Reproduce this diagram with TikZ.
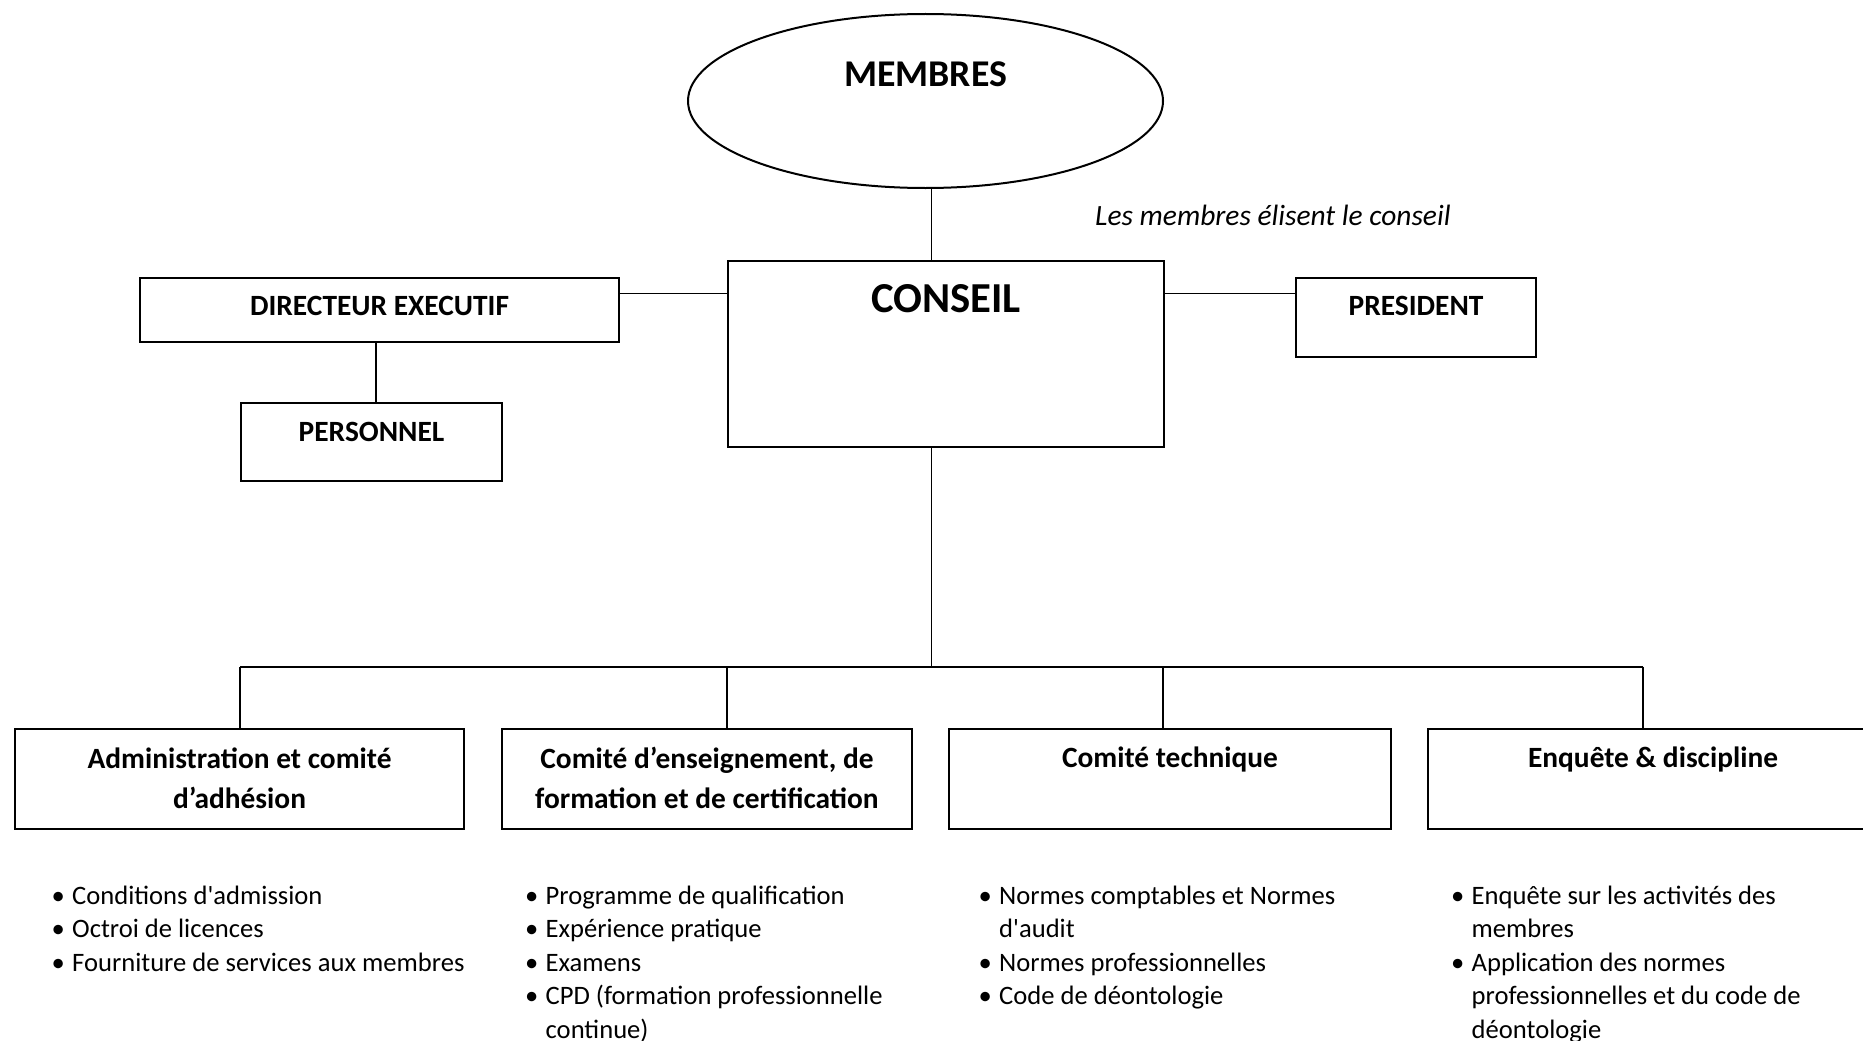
\documentclass[tikz,border=0pt]{standalone}
\usepackage{fontspec}
\setmainfont{Carlito}
\usetikzlibrary{shapes.geometric}
\newcommand\bodyfnt{\fontsize{26.6}{33.5}\selectfont}
\newcommand\hdfnt{\fontsize{29.4}{34}\selectfont\bfseries}
\newcommand\subfnt{\fontsize{29.4}{40.5}\selectfont\bfseries}
\newcommand\bul{\makebox[20.5pt][l]{\textbullet}}
\newcommand\ind{\hspace*{20.5pt}}
\newcommand\sq{\textquotesingle}
\tikzset{
  box/.style={draw, line width=2pt, rectangle, inner xsep=0pt, inner ysep=0pt, align=center},
  conn/.style={line width=1.6pt},
  lst/.style={anchor=base west, inner sep=0pt, font=\bodyfnt},
}
\begin{document}
\begin{tikzpicture}[x=1pt,y=-1pt]
\useasboundingbox (0,0) rectangle (1863,1041);
% top
\node[draw, ellipse, line width=2pt, minimum width=475pt, minimum height=174pt, inner sep=0pt,
  text height=20pt, text depth=50pt, font=\fontsize{37.8}{40}\selectfont\bfseries] (mem) at (925.5,101) {MEMBRES};
\node[box, anchor=north west, minimum width=436pt, text height=51.5pt, text depth=134.5pt,
  font=\fontsize{42.7}{46}\selectfont\bfseries] (con) at (727,260) {CONSEIL};
\node[box, anchor=north west, minimum width=479pt, text height=37.5pt, text depth=26.5pt, font=\hdfnt] (dir) at (139,277) {DIRECTEUR EXECUTIF};
\node[box, anchor=north west, minimum width=261pt, text height=38.5pt, text depth=39.5pt, font=\hdfnt] (pers) at (240,402) {PERSONNEL};
\node[box, anchor=north west, minimum width=240pt, text height=37.5pt, text depth=41.5pt, font=\hdfnt] (pres) at (1295,277) {PRESIDENT};
\node[anchor=base west, inner sep=0pt, font=\fontsize{29.4}{34}\selectfont\itshape] (elect) at (1095,225) {Les membres élisent le conseil};
% committees
\node[box, anchor=north west, minimum width=449pt, text height=79.5pt, text depth=20.5pt, font=\subfnt] (b1) at (14,728) {Administration et comité\\d’adhésion};
\node[box, anchor=north west, minimum width=410pt, text height=79.5pt, text depth=20.5pt, font=\subfnt] (b2) at (501,728) {Comité d’enseignement, de\\formation et de certification};
\node[box, anchor=north west, minimum width=442pt, text height=38.5pt, text depth=61.5pt, font=\subfnt] (b3) at (948,728) {Comité technique};
\node[box, anchor=north west, minimum width=450pt, text height=38.5pt, text depth=61.5pt, font=\subfnt] (b4) at (1427,728) {Enquête \& discipline};
% connectors
\coordinate (vx) at (931.5,0);
\coordinate (hy) at (0,293.5);
\coordinate (px) at (375.7,0);
\coordinate (d1) at (240,666.5);
\coordinate (d2) at (727,666.5);
\coordinate (d3) at (1163,666.5);
\coordinate (d4) at (1643,666.5);
\draw[conn] (vx |- mem.south) -- (vx |- con.north);
\draw[conn] (dir.east |- hy) -- (con.west |- hy);
\draw[conn] (con.east |- hy) -- (pres.west |- hy);
\draw[conn] (px |- dir.south) -- (px |- pers.north);
\draw[conn] (vx |- con.south) -- (vx |- d1);
\draw[line width=2pt] (d1) -- (d4);
\draw[conn] (d1) -- (d1 |- b1.north);
\draw[conn] (d2) -- (d2 |- b2.north);
\draw[conn] (d3) -- (d3 |- b3.north);
\draw[conn] (d4) -- (d4 |- b4.north);
% lists
\node[lst] (l1) at (51.5,904) {\begin{tabular}[t]{@{}l@{}}
\bul Conditions d\sq admission\\
\bul Octroi de licences\\
\bul Fourniture de services aux membres
\end{tabular}};
\node[lst] (l2) at (525,904) {\begin{tabular}[t]{@{}l@{}}
\bul Programme de qualification\\
\bul Expérience pratique\\
\bul Examens\\
\bul CPD (formation professionnelle\\
\ind continue)
\end{tabular}};
\node[lst] (l3) at (978.5,904) {\begin{tabular}[t]{@{}l@{}}
\bul Normes comptables et Normes\\
\ind d\sq audit\\
\bul Normes professionnelles\\
\bul Code de déontologie
\end{tabular}};
\node[lst] (l4) at (1451,904) {\begin{tabular}[t]{@{}l@{}}
\bul Enquête sur les activités des\\
\ind membres\\
\bul Application des normes\\
\ind professionnelles et du code de\\
\ind déontologie
\end{tabular}};
\end{tikzpicture}
\end{document}
